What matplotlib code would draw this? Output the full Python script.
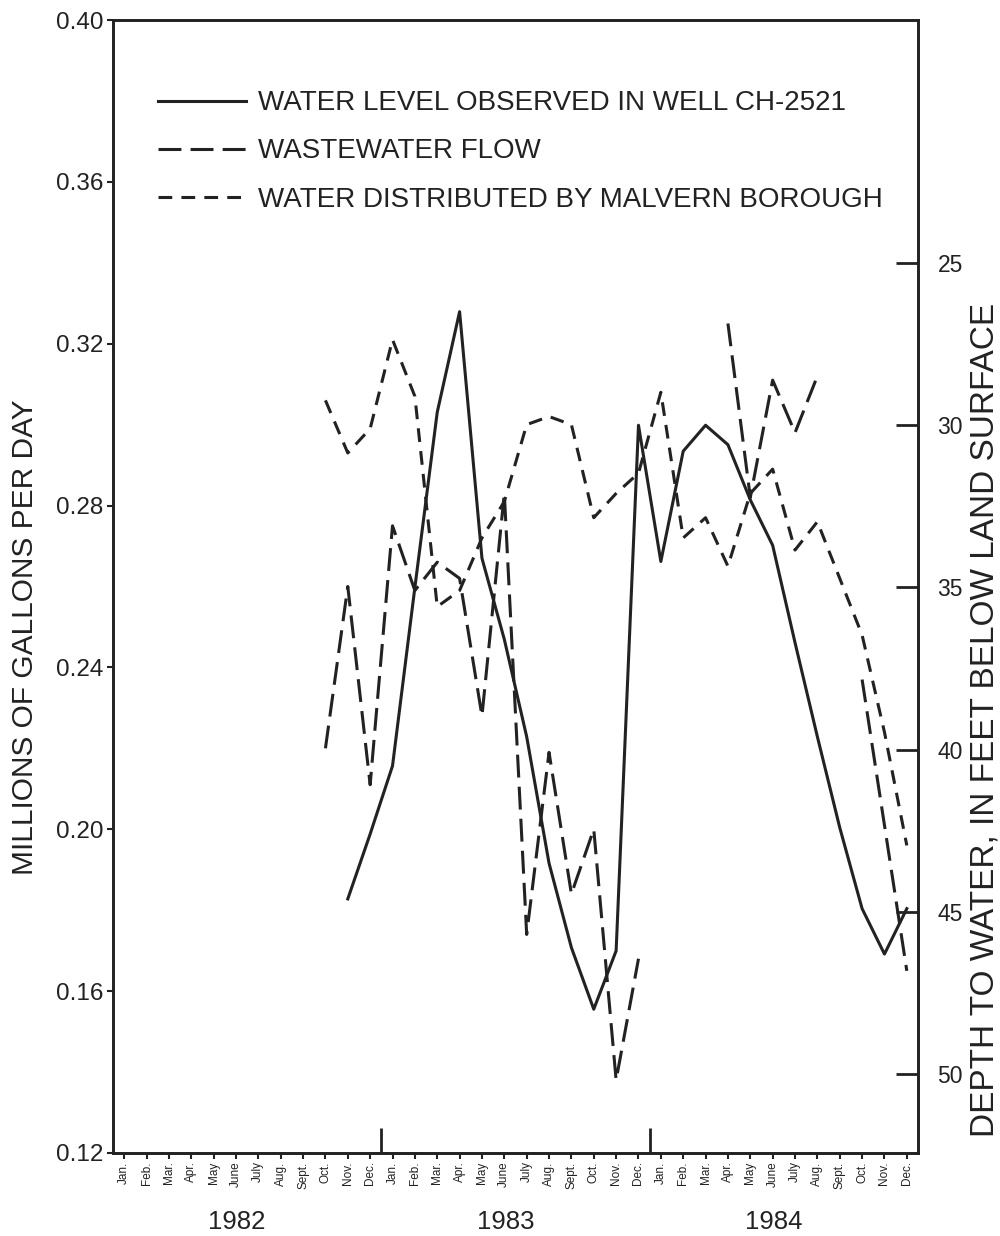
import numpy as np
import matplotlib
matplotlib.use('Agg')
import matplotlib.pyplot as plt

plt.rcParams['font.family'] = ['Liberation Sans', 'DejaVu Sans']

nan = np.nan
months = ['Jan.', 'Feb.', 'Mar.', 'Apr.', 'May', 'June',
          'July', 'Aug.', 'Sept.', 'Oct.', 'Nov.', 'Dec.']
years = ['1982', '1983', '1984']

# monthly values, Jan 1982 - Dec 1984 (nan = no record)
# wastewater flow, million gallons per day
wastewater = [nan, nan, nan, nan, nan, nan, nan, nan, nan, 0.220, 0.260, 0.211,
              0.275, 0.259, 0.266, 0.262, 0.228, 0.283, 0.174, 0.219, 0.184, 0.200, 0.138, 0.168,
              nan, nan, nan, 0.325, 0.282, 0.311, 0.298, 0.312, nan, 0.237, 0.201, 0.165]
# water distributed by Malvern Borough, million gallons per day
distributed = [nan, nan, nan, nan, nan, nan, nan, nan, nan, 0.306, 0.293, 0.299,
               0.321, 0.307, 0.255, 0.259, 0.272, 0.281, 0.300, 0.302, 0.300, 0.277, 0.283, 0.288,
               0.308, 0.272, 0.277, 0.265, 0.283, 0.289, 0.269, 0.276, 0.262, 0.248, 0.224, 0.196]
# depth to water in well CH-2521, feet below land surface
water_level = [nan, nan, nan, nan, nan, nan, nan, nan, nan, nan, 44.6, 42.6,
               40.5, 35.0, 29.6, 26.5, 34.1, 36.6, 39.6, 43.5, 46.1, 48.0, 46.2, 30.0,
               34.2, 30.8, 30.0, 30.6, 32.3, 33.7, 36.7, 39.6, 42.4, 44.9, 46.3, 44.9]

ink = '#222222'
x = np.arange(len(wastewater)) + 0.5

fig = plt.figure(figsize=(10, 12.36), dpi=100)
ax = fig.add_axes([0.113, 0.0672, 0.805, 0.9166])

l_waste, = ax.plot(x, wastewater, color=ink, lw=2.2, linestyle=(0, (7.5, 3)))
l_dist, = ax.plot(x, distributed, color=ink, lw=2.2, linestyle=(0, (4.5, 3)))

ax2 = ax.twinx()
l_level, = ax2.plot(x, water_level, color=ink, lw=2.2)

ax.set_xlim(0, 36)
ax.set_ylim(0.12, 0.40)
ax2.set_ylim(52.43, 17.51)

# left axis
yt = np.arange(0.12, 0.401, 0.04)
ax.set_yticks(yt)
ax.set_yticklabels(['%.2f' % v for v in yt])
ax.tick_params(axis='y', direction='out', length=4, width=1.5,
               labelsize=17.5, colors=ink, pad=3)

# month ticks + year separators
ax.set_xticks(x)
ax.set_xticklabels(months * 3, rotation=90)
ax.tick_params(axis='x', which='major', direction='out', length=4, width=1.5,
               labelsize=8.5, colors=ink, pad=2)
ax.set_xticks([12, 24], minor=True)
ax.tick_params(axis='x', which='minor', direction='in', length=18, width=2, colors=ink)
for k, yr in enumerate(years):
    ax.text(12 * k + 5.55, -0.061, yr, transform=ax.get_xaxis_transform(),
            ha='center', va='center', fontsize=18.5, color=ink)

# right axis
ax2.set_yticks([25, 30, 35, 40, 45, 50])
ax2.tick_params(axis='y', direction='in', length=16, width=2,
                labelsize=16.5, colors=ink, pad=14)

for a in (ax, ax2):
    for s in a.spines.values():
        s.set_linewidth(1.9)
        s.set_color(ink)

fig.text(0.025, 1 - 637 / 1236, 'MILLIONS OF GALLONS PER DAY', rotation=90,
         ha='center', va='center', fontsize=21.5, color=ink)
fig.text(0.985, 1 - 720 / 1236, 'DEPTH TO WATER, IN FEET BELOW LAND SURFACE',
         rotation=90, ha='center', va='center', fontsize=24, color=ink)

labels = ['WATER LEVEL OBSERVED IN WELL CH-2521',
          'WASTEWATER FLOW',
          'WATER DISTRIBUTED BY MALVERN BOROUGH']
leg = ax2.legend([l_level, l_waste, l_dist], labels, loc='upper left',
                 bbox_to_anchor=(0.056, 0.938), frameon=False, fontsize=20,
                 handlelength=3.15, handletextpad=0.45, labelspacing=0.8,
                 borderpad=0, borderaxespad=0)
for t in leg.get_texts():
    t.set_color(ink)

fig.savefig('out.png', dpi=100)
